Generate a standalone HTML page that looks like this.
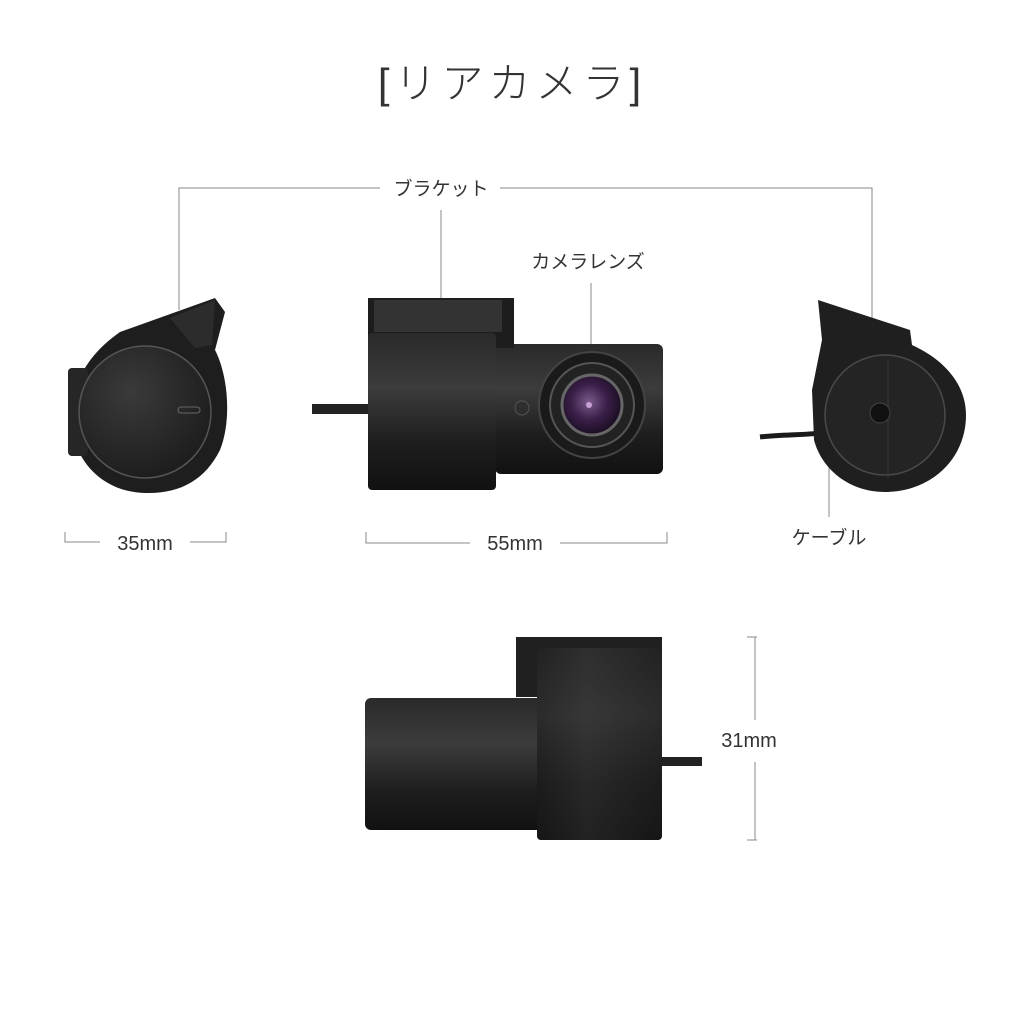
<!DOCTYPE html>
<html><head><meta charset="utf-8"><style>
body{margin:0;background:#fff;}
svg{display:block}
text{font-family:"Liberation Sans","Noto Sans CJK JP",sans-serif;fill:#333}
</style></head><body>
<svg width="1024" height="1024" viewBox="0 0 1024 1024" xmlns="http://www.w3.org/2000/svg">
<defs>
<linearGradient id="cyl" x1="0" y1="0" x2="0" y2="1">
<stop offset="0" stop-color="#2a2a2a"/><stop offset="0.35" stop-color="#3c3c3c"/><stop offset="0.7" stop-color="#1e1e1e"/><stop offset="1" stop-color="#111"/></linearGradient>
<linearGradient id="cylh" x1="0" y1="0" x2="1" y2="0">
<stop offset="0" stop-color="#1a1a1a"/><stop offset="0.4" stop-color="#333"/><stop offset="1" stop-color="#1a1a1a"/></linearGradient>
<radialGradient id="lens" cx="0.45" cy="0.45" r="0.6"><stop offset="0" stop-color="#7a5a8a"/><stop offset="0.5" stop-color="#3a1f48"/><stop offset="1" stop-color="#150a1c"/></radialGradient>
<radialGradient id="disc" cx="0.4" cy="0.35" r="0.7"><stop offset="0" stop-color="#3a3a3a"/><stop offset="1" stop-color="#1c1c1c"/></radialGradient>
</defs>
<text x="512" y="98" font-size="42" font-weight="300" text-anchor="middle" letter-spacing="5">[リアカメラ]</text>
<g stroke="#888" stroke-width="1" fill="none">
<path d="M179 310V188H380M500 188H872V318"/>
<path d="M441 210V302"/>
<path d="M591 283V392"/>
<path d="M829 440V517"/>
<path d="M65 532V542H100M190 542H226V532"/>
<path d="M366 532V543H470M560 543H667V532"/>
<path d="M755 637V720M755 762V840M747 637H757M747 840H757"/>
</g>
<text x="441" y="195" font-size="19" text-anchor="middle">ブラケット</text>
<text x="588" y="268" font-size="19" text-anchor="middle">カメラレンズ</text>
<text x="145" y="550" font-size="20" text-anchor="middle">35mm</text>
<text x="515" y="550" font-size="20" text-anchor="middle">55mm</text>
<text x="829" y="544" font-size="19" text-anchor="middle">ケーブル</text>
<text x="749" y="747" font-size="20" text-anchor="middle">31mm</text>

<!-- left camera -->
<path d="M120 332L215 298L225 312L215 350C228 375 232 420 220 450C205 480 180 494 145 493C105 492 78 465 72 430C68 395 80 360 120 332Z" fill="#1e1e1e"/>
<path d="M170 318L215 300L212 345L195 348Z" fill="#2c2c2c"/>
<rect x="68" y="368" width="20" height="88" rx="4" fill="#262626"/>
<circle cx="145" cy="412" r="66" fill="url(#disc)" stroke="#555" stroke-width="1.5"/>
<rect x="178" y="407" width="22" height="6" rx="3" fill="none" stroke="#666"/>

<!-- middle camera -->
<rect x="312" y="404" width="60" height="10" fill="#222"/>
<rect x="495" y="344" width="168" height="130" rx="6" fill="url(#cyl)"/>
<rect x="368" y="298" width="146" height="50" fill="#1d1d1d"/>
<rect x="374" y="300" width="128" height="32" fill="#333"/>
<rect x="368" y="333" width="128" height="157" rx="4" fill="url(#cyl)"/>
<circle cx="592" cy="405" r="53" fill="#1a1a1a" stroke="#444" stroke-width="2"/>
<circle cx="592" cy="405" r="42" fill="#222" stroke="#555" stroke-width="2"/>
<circle cx="592" cy="405" r="30" fill="url(#lens)" stroke="#666" stroke-width="3"/>
<circle cx="589" cy="405" r="3" fill="#c9a0d8"/>
<circle cx="522" cy="408" r="7" fill="#2e2e2e" stroke="#555"/>

<!-- right camera -->
<path d="M760 437C800 432 840 440 880 412" stroke="#1a1a1a" stroke-width="5" fill="none"/>
<path d="M818 300L910 330L912 345C945 360 966 385 966 415C966 460 930 492 885 492C850 492 822 470 814 440L812 390L822 340Z" fill="#1f1f1f"/>
<circle cx="885" cy="415" r="60" fill="#242424" stroke="#4a4a4a" stroke-width="1.5"/>
<path d="M888 360V478" stroke="#3a3a3a"/>
<circle cx="880" cy="413" r="10" fill="#111" stroke="#444"/>

<!-- bottom camera -->
<rect x="660" y="757" width="42" height="9" fill="#222"/>
<rect x="365" y="698" width="180" height="132" rx="6" fill="url(#cyl)"/>
<rect x="516" y="637" width="146" height="60" fill="#202020"/>
<rect x="538" y="650" width="120" height="45" fill="#2a2a2a"/>
<rect x="537" y="648" width="125" height="192" rx="4" fill="url(#cylh)"/>
<rect x="537" y="648" width="125" height="192" rx="4" fill="url(#cyl)" opacity="0.5"/>
</svg>
</body></html>
